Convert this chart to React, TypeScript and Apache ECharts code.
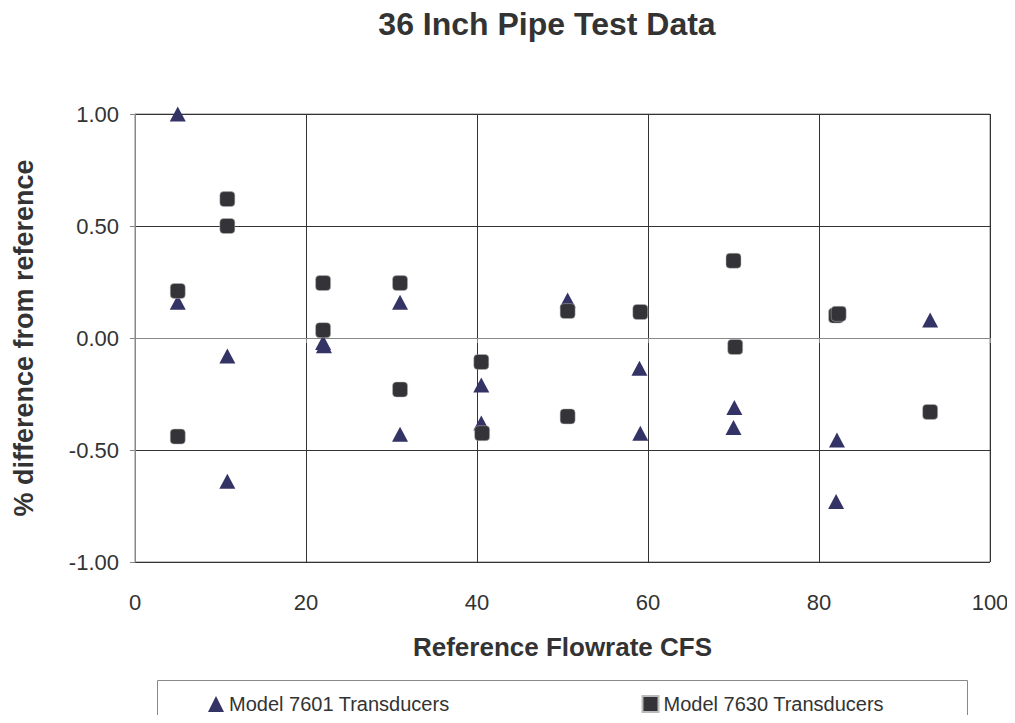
import React, { useEffect, useRef } from "react";
import * as echarts from "echarts";

const title = "36 Inch Pipe Test Data";
const xName = "Reference Flowrate CFS";
const yName = "% difference from reference";

const model7601X = [5.0, 5.0, 10.8, 10.8, 22.0, 22.1, 31.0, 31.0, 40.5, 40.5, 50.6, 59.0, 59.1, 70.1, 70.0, 82.1, 82.0, 93.0];
const model7601Y = [1.0, 0.16, -0.08, -0.64, -0.02, -0.035, 0.16, -0.43, -0.21, -0.38, 0.17, -0.135, -0.425, -0.31, -0.4, -0.455, -0.73, 0.08];

const model7630X = [5.0, 5.0, 10.8, 10.8, 22.0, 22.0, 31.0, 31.0, 40.5, 40.6, 50.6, 50.6, 59.1, 70.0, 70.2, 82.0, 82.3, 93.0];
const model7630Y = [0.21, -0.44, 0.62, 0.5, 0.245, 0.035, 0.245, -0.23, -0.107, -0.425, 0.12, -0.35, 0.116, 0.345, -0.04, 0.1, 0.108, -0.33];

const seriesNames = ["Model 7601 Transducers", "Model 7630 Transducers"];

export default function App() {
  const ref = useRef<HTMLDivElement>(null);
  useEffect(() => {
    if (!ref.current) return;
    const chart = echarts.init(ref.current, null, { renderer: "svg" });
    const font = "Liberation Sans, Arial, sans-serif";
    chart.setOption({
      animation: false,
      backgroundColor: "#ffffff",
      textStyle: { fontFamily: font },
      title: {
        text: title,
        left: 542,
        textAlign: "center",
        top: 3,
        textStyle: { fontSize: 32, fontWeight: "bold", color: "#333", fontFamily: font },
      },
      grid: { left: 135, right: 25, top: 114, bottom: 161, containLabel: false, show: true, borderColor: "#888", borderWidth: 1 },
      xAxis: {
        type: "value",
        min: 0,
        max: 100,
        interval: 20,
        name: xName,
        nameLocation: "middle",
        nameGap: 72,
        nameTextStyle: { fontSize: 26, fontWeight: "bold", color: "#333", fontFamily: font },
        axisLine: { show: true, lineStyle: { color: "#888", width: 1 } },
        axisTick: { show: true, inside: false, length: 5, lineStyle: { color: "#888" } },
        axisLabel: { fontSize: 22, color: "#333", margin: 29, fontFamily: font },
        splitLine: { show: true, lineStyle: { color: "#333", width: 1 } },
      },
      yAxis: {
        type: "value",
        min: -1,
        max: 1,
        interval: 0.5,
        name: yName,
        nameLocation: "middle",
        nameGap: 98,
        nameRotate: 90,
        nameTextStyle: { fontSize: 27, fontWeight: "bold", color: "#333", fontFamily: font },
        axisLine: { show: true, lineStyle: { color: "#888", width: 1 } },
        axisTick: { show: true, inside: false, length: 5, lineStyle: { color: "#888" } },
        axisLabel: { fontSize: 22, color: "#333", margin: 16, fontFamily: font, formatter: (v: number) => v.toFixed(2) },
        splitLine: { show: true, lineStyle: { color: "#333", width: 1 } },
      },
      legend: {
        left: 203,
        top: 689,
        itemGap: 192,
        itemWidth: 16,
        itemHeight: 16,
        textStyle: { fontSize: 20, color: "#333", fontFamily: font },
        data: [
          { name: seriesNames[0], icon: "triangle" },
          { name: seriesNames[1], icon: "rect" },
        ],
      },
      graphic: [
        {
          type: "rect",
          shape: { x: 157.5, y: 680.5, width: 810, height: 60 },
          style: { fill: "none", stroke: "#888", lineWidth: 1 },
          silent: true,
        },
      ],
      series: [
        {
          name: seriesNames[0],
          type: "scatter",
          symbol: "triangle",
          symbolSize: [16, 15],
          itemStyle: { color: "#333366", opacity: 1 },
          data: model7601X.map((x, i) => [x, model7601Y[i]]),
        },
        {
          name: seriesNames[1],
          type: "scatter",
          symbol: "roundRect",
          symbolSize: 15,
          itemStyle: { color: "#333338", borderColor: "#bbbbbb", borderWidth: 0.5, opacity: 1 },
          data: model7630X.map((x, i) => [x, model7630Y[i]]),
        },
      ],
    });
    return () => chart.dispose();
  }, []);
  return <div ref={ref} style={{ width: 1015, height: 723, margin: -8 }} />;
}
